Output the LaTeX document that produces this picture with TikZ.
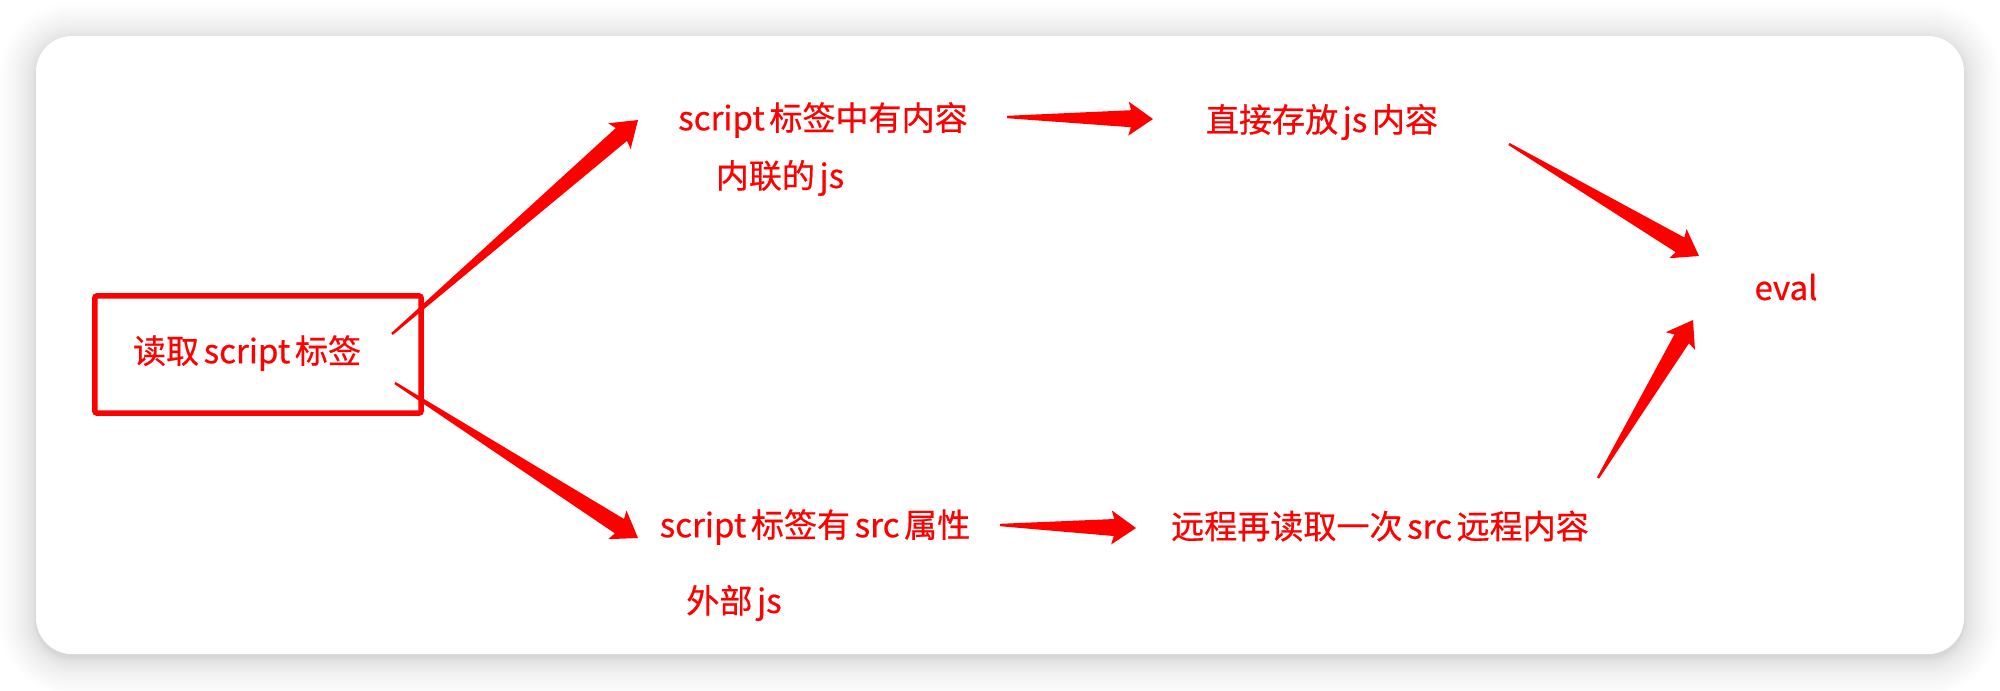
\documentclass[tikz,border=0pt]{standalone}
\usepackage{fontspec}
\setmainfont{Noto Sans CJK SC}
\newfontfamily\lblfont{Noto Sans CJK SC}[FakeBold=0.6]
\usetikzlibrary{calc}
\definecolor{arrowred}{RGB}{255,0,0}
\newcommand\gp{\hspace{0.14em}}
\tikzset{
  lbl/.style={text=arrowred, font=\lblfont\fontsize{9.4pt}{11pt}\selectfont, inner sep=0pt},
  fat/.style={fill=arrowred},
  readbox/.style={draw=arrowred, line width=0.055cm, rounded corners=0.02cm},
  frame/.style={fill=white, rounded corners=0.36cm},
}
\newcommand\fatarrow[2]{%
  \fill[fat] ($(#1)!0.012cm!90:(#2)$)
    -- ($(#2)!0.22cm!(#1)!0.085cm!-90:(#1)$)
    -- ($(#2)!0.245cm!(#1)!0.17cm!-90:(#1)$)
    -- (#2)
    -- ($(#2)!0.245cm!(#1)!0.17cm!90:(#1)$)
    -- ($(#2)!0.22cm!(#1)!0.085cm!90:(#1)$)
    -- ($(#1)!0.012cm!-90:(#2)$) -- cycle;}
\begin{document}
\begin{tikzpicture}[x=0.01cm, y=-0.01cm]
\useasboundingbox (0,0) rectangle (2000,690);
\fill[white] (0,0) rectangle (2000,690);
% soft shadow
\foreach \i in {1,...,20}{
  \pgfmathsetmacro\d{0.09*\i*\i}
  \pgfmathsetmacro\r{0.36+0.0009*\i*\i}
  \fill[black, opacity=0.0075, rounded corners=\r cm]
    (36-\d, 36-\d+4) rectangle (1964+\d, 654+\d+4);
}
\fill[frame] (36,36) rectangle (1964,654);
% read box
\node[readbox, minimum width=3.26cm, minimum height=1.17cm] (box) at (258,354.5) {};
\node[lbl] (read) at (247,353) {读取\gp script\gp 标签};
% texts
\node[lbl] (t1) at (823,120) {script\gp 标签中有内容};
\node[lbl] (t1b) at (780,178) {内联的\gp js};
\node[lbl] (t2) at (1322,122) {直接存放\gp js\gp 内容};
\node[lbl] (ev) at (1786,287) {eval};
\node[lbl] (t3) at (815,527) {script\gp 标签有\gp src\gp 属性};
\node[lbl] (t3b) at (734,603) {外部\gp js};
\node[lbl] (t4) at (1380,526) {远程再读取一次\gp src\gp 远程内容};
% arrow end points
\coordinate (a1s) at (392,334); \coordinate (a1e) at (638,120);
\coordinate (a2s) at (395,383); \coordinate (a2e) at (638,538);
\coordinate (a3s) at (1007,117); \coordinate (a3e) at (1153,119);
\coordinate (a4s) at (1509,144); \coordinate (a4e) at (1699,256);
\coordinate (a5s) at (1598,478); \coordinate (a5e) at (1693,320);
\coordinate (a6s) at (1000,525); \coordinate (a6e) at (1136,528);
\fatarrow{a1s}{a1e}
\fatarrow{a2s}{a2e}
\fatarrow{a3s}{a3e}
\fatarrow{a4s}{a4e}
\fatarrow{a5s}{a5e}
\fatarrow{a6s}{a6e}
\end{tikzpicture}
\end{document}
